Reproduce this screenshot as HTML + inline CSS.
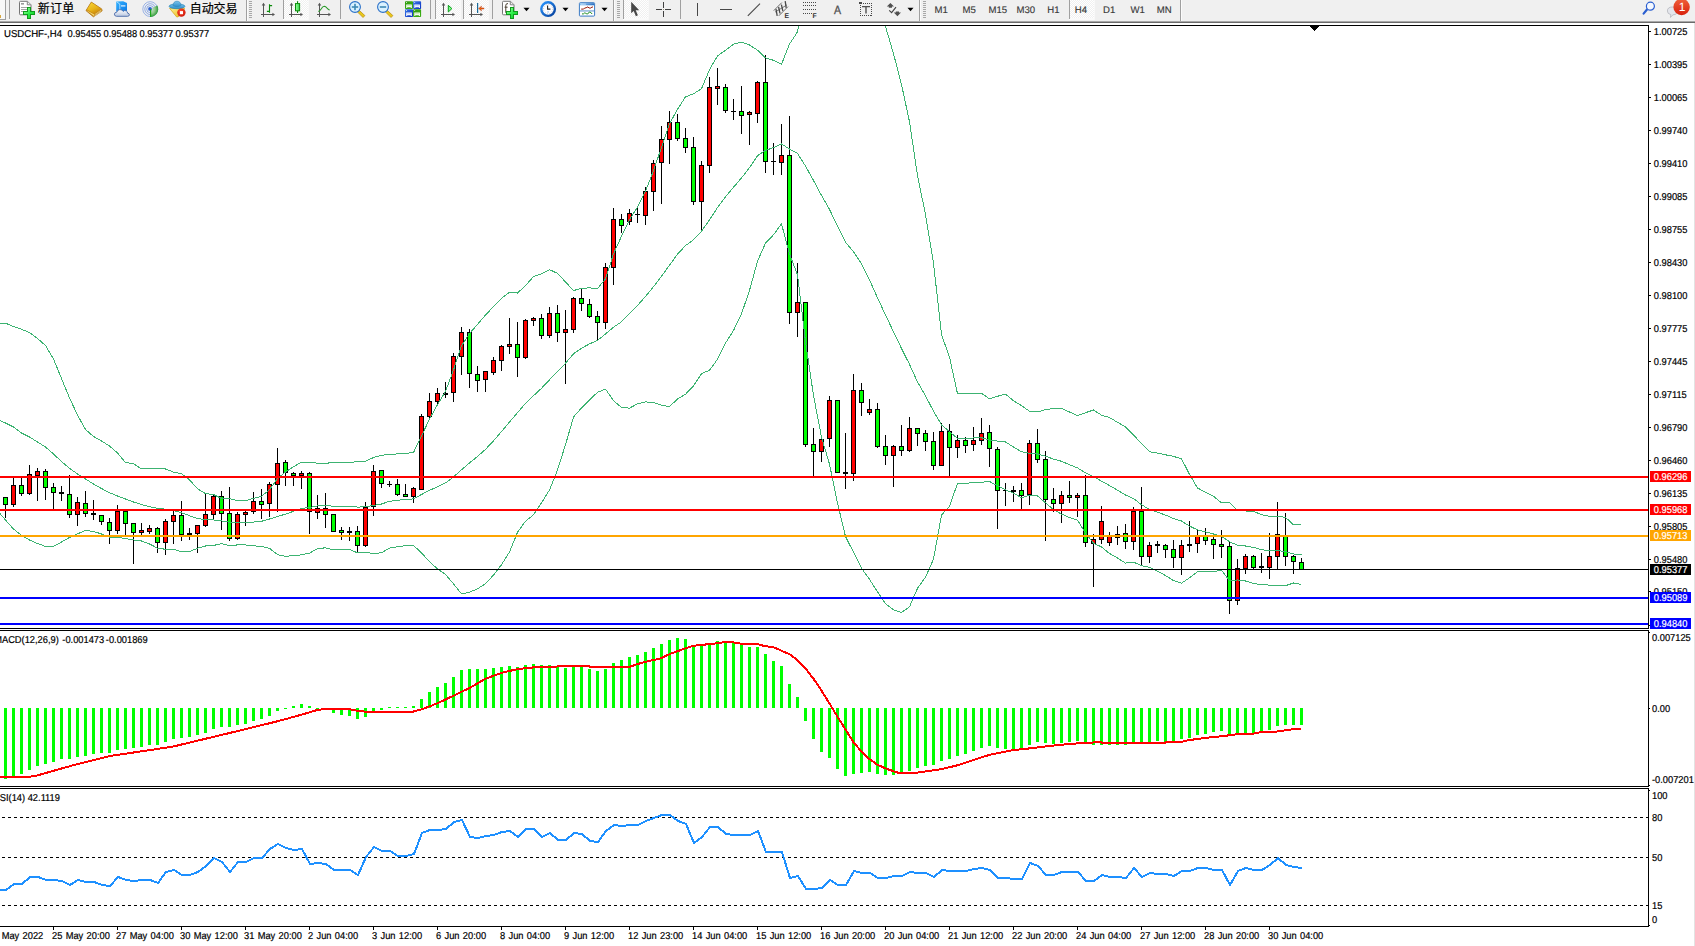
<!DOCTYPE html>
<html lang="zh"><head><meta charset="utf-8"><title>USDCHF-,H4</title>
<style>
html,body{margin:0;padding:0;background:#fff;overflow:hidden}
body{width:1695px;height:946px;position:relative;font-family:"Liberation Sans", "Noto Sans CJK SC", sans-serif}
svg text{font-family:"Liberation Sans", "Noto Sans CJK SC", sans-serif}
</style></head><body>
<svg width="1695" height="946" viewBox="0 0 1695 946" style="position:absolute;left:0;top:0;display:block" font-family='"Liberation Sans", "Noto Sans CJK SC", sans-serif' font-size="10px" text-rendering="geometricPrecision">
<rect x="0" y="0" width="1695" height="946" fill="#fff"/>
<defs>
<clipPath id="cm"><rect x="0" y="26" width="1648" height="602"/></clipPath>
<clipPath id="cd"><rect x="0" y="631" width="1648" height="155"/></clipPath>
<clipPath id="cr"><rect x="0" y="789" width="1648" height="137"/></clipPath>
<pattern id="hatch" width="2" height="2" patternUnits="userSpaceOnUse"><rect width="2" height="2" fill="#f0f0f0"/><rect width="1" height="1" fill="#fff"/><rect x="1" y="1" width="1" height="1" fill="#fff"/></pattern>
</defs>
<g shape-rendering="crispEdges">
<g clip-path="url(#cm)">
<path d="M5 497h1v21h-1zM13 478h1v29h-1zM21 478h1v18h-1zM29 465h1v30h-1zM37 468h1v33h-1zM45 469h1v31h-1zM53 483h1v26h-1zM61 486h1v15h-1zM69 475h1v43h-1zM77 497h1v29h-1zM85 491h1v26h-1zM93 500h1v20h-1zM101 515h1v10h-1zM109 518h1v26h-1zM117 505h1v29h-1zM125 511h1v24h-1zM133 523h1v41h-1zM141 523h1v12h-1zM149 525h1v9h-1zM157 527h1v26h-1zM165 519h1v36h-1zM173 511h1v33h-1zM181 501h1v40h-1zM189 528h1v12h-1zM197 525h1v28h-1zM205 493h1v34h-1zM213 495h1v25h-1zM221 491h1v39h-1zM229 487h1v54h-1zM237 512h1v28h-1zM245 511h1v15h-1zM253 492h1v22h-1zM261 489h1v30h-1zM269 482h1v35h-1zM277 448h1v64h-1zM285 460h1v26h-1zM293 472h1v14h-1zM301 471h1v18h-1zM309 472h1v62h-1zM317 495h1v24h-1zM325 493h1v35h-1zM333 514h1v18h-1zM341 527h1v13h-1zM349 527h1v14h-1zM357 526h1v26h-1zM365 502h1v45h-1zM373 465h1v51h-1zM381 470h1v18h-1zM389 481h1v6h-1zM397 479h1v17h-1zM405 484h1v13h-1zM413 487h1v16h-1zM421 414h1v76h-1zM429 393h1v26h-1zM437 388h1v17h-1zM445 382h1v16h-1zM453 353h1v49h-1zM461 327h1v48h-1zM469 329h1v59h-1zM477 366h1v26h-1zM485 371h1v21h-1zM493 357h1v18h-1zM501 345h1v26h-1zM509 318h1v36h-1zM517 322h1v55h-1zM525 319h1v40h-1zM533 317h1v9h-1zM541 314h1v25h-1zM549 307h1v31h-1zM557 305h1v37h-1zM565 310h1v74h-1zM573 297h1v36h-1zM581 289h1v22h-1zM589 299h1v19h-1zM597 311h1v29h-1zM605 263h1v66h-1zM613 208h1v77h-1zM621 214h1v19h-1zM629 209h1v16h-1zM637 208h1v15h-1zM645 187h1v38h-1zM653 160h1v51h-1zM661 126h1v78h-1zM669 111h1v53h-1zM677 114h1v27h-1zM685 128h1v25h-1zM693 137h1v68h-1zM701 161h1v70h-1zM709 77h1v96h-1zM717 68h1v37h-1zM725 84h1v29h-1zM733 99h1v21h-1zM741 86h1v48h-1zM749 111h1v34h-1zM757 81h1v42h-1zM765 55h1v118h-1zM773 143h1v32h-1zM781 124h1v51h-1zM789 116h1v208h-1zM797 263h1v74h-1zM805 302h1v145h-1zM813 428h1v48h-1zM821 438h1v24h-1zM829 396h1v51h-1zM837 400h1v73h-1zM845 433h1v56h-1zM853 374h1v107h-1zM861 383h1v33h-1zM869 399h1v16h-1zM877 403h1v45h-1zM885 435h1v30h-1zM893 445h1v42h-1zM901 425h1v31h-1zM909 417h1v35h-1zM917 428h1v18h-1zM925 430h1v21h-1zM933 432h1v38h-1zM941 423h1v43h-1zM949 424h1v52h-1zM957 435h1v23h-1zM965 437h1v16h-1zM973 427h1v24h-1zM981 418h1v27h-1zM989 425h1v42h-1zM997 447h1v82h-1zM1005 483h1v23h-1zM1013 486h1v16h-1zM1021 483h1v26h-1zM1029 440h1v65h-1zM1037 429h1v34h-1zM1045 451h1v90h-1zM1053 488h1v24h-1zM1061 491h1v32h-1zM1069 481h1v22h-1zM1077 493h1v24h-1zM1085 475h1v72h-1zM1093 534h1v53h-1zM1101 506h1v38h-1zM1109 532h1v14h-1zM1117 526h1v19h-1zM1125 524h1v25h-1zM1133 507h1v43h-1zM1141 487h1v78h-1zM1149 542h1v21h-1zM1157 541h1v12h-1zM1165 544h1v14h-1zM1173 540h1v28h-1zM1181 540h1v35h-1zM1189 521h1v31h-1zM1197 530h1v23h-1zM1205 528h1v17h-1zM1213 537h1v22h-1zM1221 530h1v28h-1zM1229 542h1v72h-1zM1237 559h1v46h-1zM1245 554h1v20h-1zM1253 555h1v14h-1zM1261 553h1v20h-1zM1269 533h1v46h-1zM1277 502h1v68h-1zM1285 513h1v53h-1zM1293 555h1v19h-1zM1301 558h1v12h-1zM3 497h5v8h-5zM11 485h5v20h-5zM19 485h5v9h-5zM27 474h5v20h-5zM35 471h5v5h-5zM43 471h5v17h-5zM51 487h5v6h-5zM59 492h5v2h-5zM67 494h5v21h-5zM75 502h5v13h-5zM83 503h5v11h-5zM91 513h5v2h-5zM99 515h5v7h-5zM107 522h5v9h-5zM115 511h5v20h-5zM123 511h5v13h-5zM131 523h5v10h-5zM139 530h5v3h-5zM147 528h5v4h-5zM155 528h5v15h-5zM163 521h5v22h-5zM171 515h5v7h-5zM179 515h5v20h-5zM187 533h5v2h-5zM195 525h5v9h-5zM203 514h5v12h-5zM211 496h5v19h-5zM219 496h5v18h-5zM227 513h5v26h-5zM235 514h5v25h-5zM243 512h5v3h-5zM251 501h5v11h-5zM259 501h5v4h-5zM267 484h5v20h-5zM275 463h5v22h-5zM283 462h5v11h-5zM291 473h5v3h-5zM299 473h5v3h-5zM307 473h5v39h-5zM315 508h5v5h-5zM323 508h5v7h-5zM331 514h5v18h-5zM339 530h5v3h-5zM347 531h5v2h-5zM355 531h5v15h-5zM363 507h5v39h-5zM371 471h5v36h-5zM379 470h5v14h-5zM387 484h5v1h-5zM395 484h5v11h-5zM403 494h5v3h-5zM411 488h5v9h-5zM419 416h5v74h-5zM427 401h5v16h-5zM435 393h5v9h-5zM443 393h5v2h-5zM451 356h5v37h-5zM459 332h5v25h-5zM467 332h5v42h-5zM475 374h5v7h-5zM483 371h5v9h-5zM491 360h5v13h-5zM499 346h5v15h-5zM507 344h5v3h-5zM515 344h5v14h-5zM523 320h5v38h-5zM531 318h5v3h-5zM539 318h5v18h-5zM547 313h5v23h-5zM555 313h5v20h-5zM563 329h5v4h-5zM571 298h5v32h-5zM579 298h5v6h-5zM587 304h5v13h-5zM595 316h5v7h-5zM603 267h5v56h-5zM611 219h5v49h-5zM619 219h5v7h-5zM627 213h5v9h-5zM635 214h5v1h-5zM643 191h5v25h-5zM651 163h5v29h-5zM659 139h5v24h-5zM667 122h5v18h-5zM675 122h5v17h-5zM683 138h5v10h-5zM691 147h5v55h-5zM699 165h5v37h-5zM707 87h5v79h-5zM715 86h5v3h-5zM723 87h5v24h-5zM731 111h5v1h-5zM739 111h5v5h-5zM747 112h5v3h-5zM755 82h5v32h-5zM763 82h5v80h-5zM771 161h5v1h-5zM779 155h5v8h-5zM787 155h5v158h-5zM795 302h5v11h-5zM803 302h5v143h-5zM811 444h5v8h-5zM819 439h5v13h-5zM827 400h5v39h-5zM835 400h5v73h-5zM843 472h5v2h-5zM851 390h5v84h-5zM859 390h5v13h-5zM867 409h5v4h-5zM875 409h5v38h-5zM883 446h5v10h-5zM891 446h5v10h-5zM899 446h5v5h-5zM907 428h5v23h-5zM915 428h5v6h-5zM923 433h5v9h-5zM931 441h5v25h-5zM939 431h5v35h-5zM947 431h5v17h-5zM955 440h5v8h-5zM963 440h5v6h-5zM971 440h5v5h-5zM979 433h5v8h-5zM987 432h5v17h-5zM995 449h5v42h-5zM1003 490h5v1h-5zM1011 490h5v2h-5zM1019 490h5v6h-5zM1027 443h5v52h-5zM1035 443h5v17h-5zM1043 459h5v41h-5zM1051 499h5v5h-5zM1059 495h5v9h-5zM1067 495h5v3h-5zM1075 495h5v3h-5zM1083 495h5v48h-5zM1091 539h5v5h-5zM1099 521h5v19h-5zM1107 535h5v8h-5zM1115 534h5v4h-5zM1123 533h5v9h-5zM1131 511h5v31h-5zM1139 511h5v46h-5zM1147 545h5v12h-5zM1155 544h5v2h-5zM1163 545h5v5h-5zM1171 549h5v9h-5zM1179 545h5v13h-5zM1187 544h5v2h-5zM1195 536h5v8h-5zM1203 536h5v5h-5zM1211 539h5v6h-5zM1219 544h5v3h-5zM1227 546h5v55h-5zM1235 568h5v33h-5zM1243 556h5v13h-5zM1251 556h5v12h-5zM1259 566h5v2h-5zM1267 556h5v12h-5zM1275 534h5v23h-5zM1283 536h5v21h-5zM1291 556h5v6h-5zM1299 562h5v8h-5z" fill="#000"/>
<path d="M4 498h3v6h-3zM20 486h3v7h-3zM44 472h3v15h-3zM52 488h3v4h-3zM68 495h3v19h-3zM84 504h3v9h-3zM100 516h3v5h-3zM108 523h3v7h-3zM124 512h3v11h-3zM132 524h3v8h-3zM156 529h3v13h-3zM180 516h3v18h-3zM220 497h3v16h-3zM228 514h3v24h-3zM260 502h3v2h-3zM284 463h3v9h-3zM292 474h3v1h-3zM308 474h3v37h-3zM324 509h3v5h-3zM332 515h3v16h-3zM340 531h3v1h-3zM356 532h3v13h-3zM380 471h3v12h-3zM396 485h3v9h-3zM404 495h3v1h-3zM468 333h3v40h-3zM476 375h3v5h-3zM516 345h3v12h-3zM540 319h3v16h-3zM556 314h3v18h-3zM580 299h3v4h-3zM588 305h3v11h-3zM596 317h3v5h-3zM620 220h3v5h-3zM676 123h3v15h-3zM684 139h3v8h-3zM692 148h3v53h-3zM724 88h3v22h-3zM740 112h3v3h-3zM764 83h3v78h-3zM788 156h3v156h-3zM804 303h3v141h-3zM812 445h3v6h-3zM836 401h3v71h-3zM860 391h3v11h-3zM876 410h3v36h-3zM884 447h3v8h-3zM900 447h3v3h-3zM916 429h3v4h-3zM924 434h3v7h-3zM932 442h3v23h-3zM948 432h3v15h-3zM964 441h3v4h-3zM988 433h3v15h-3zM996 450h3v40h-3zM1020 491h3v4h-3zM1036 444h3v15h-3zM1044 460h3v39h-3zM1052 500h3v3h-3zM1068 496h3v1h-3zM1084 496h3v46h-3zM1124 534h3v7h-3zM1140 512h3v44h-3zM1164 546h3v3h-3zM1172 550h3v7h-3zM1204 537h3v3h-3zM1212 540h3v4h-3zM1220 545h3v1h-3zM1228 547h3v53h-3zM1252 557h3v10h-3zM1284 537h3v19h-3zM1292 557h3v4h-3zM1300 563h3v6h-3z" fill="#00ff00"/>
<path d="M12 486h3v18h-3zM28 475h3v18h-3zM36 472h3v3h-3zM76 503h3v11h-3zM116 512h3v18h-3zM140 531h3v1h-3zM148 529h3v2h-3zM164 522h3v20h-3zM172 516h3v5h-3zM196 526h3v7h-3zM204 515h3v10h-3zM212 497h3v17h-3zM236 515h3v23h-3zM244 513h3v1h-3zM252 502h3v9h-3zM268 485h3v18h-3zM276 464h3v20h-3zM300 474h3v1h-3zM316 509h3v3h-3zM364 508h3v37h-3zM372 472h3v34h-3zM412 489h3v7h-3zM420 417h3v72h-3zM428 402h3v14h-3zM436 394h3v7h-3zM452 357h3v35h-3zM460 333h3v23h-3zM484 372h3v7h-3zM492 361h3v11h-3zM500 347h3v13h-3zM508 345h3v1h-3zM524 321h3v36h-3zM532 319h3v1h-3zM548 314h3v21h-3zM564 330h3v2h-3zM572 299h3v30h-3zM604 268h3v54h-3zM612 220h3v47h-3zM628 214h3v7h-3zM644 192h3v23h-3zM652 164h3v27h-3zM660 140h3v22h-3zM668 123h3v16h-3zM700 166h3v35h-3zM708 88h3v77h-3zM716 87h3v1h-3zM748 113h3v1h-3zM756 83h3v30h-3zM780 156h3v6h-3zM796 303h3v9h-3zM820 440h3v11h-3zM828 401h3v37h-3zM852 391h3v82h-3zM868 410h3v2h-3zM892 447h3v8h-3zM908 429h3v21h-3zM940 432h3v33h-3zM956 441h3v6h-3zM972 441h3v3h-3zM980 434h3v6h-3zM1028 444h3v50h-3zM1060 496h3v7h-3zM1076 496h3v1h-3zM1092 540h3v3h-3zM1100 522h3v17h-3zM1108 536h3v6h-3zM1116 535h3v2h-3zM1132 512h3v29h-3zM1148 546h3v10h-3zM1180 546h3v11h-3zM1196 537h3v6h-3zM1236 569h3v31h-3zM1244 557h3v11h-3zM1268 557h3v10h-3zM1276 535h3v21h-3z" fill="#ff0000"/>
<g fill="none" stroke="#3cb371" stroke-width="1">
<polyline points="0,323.2 5.5,323.2 13.5,326.5 21.5,329.3 29.5,332.5 37.5,338.5 45.5,345.5 53.5,359.0 61.5,378.5 69.5,398.0 77.5,415.0 85.5,429.5 93.5,436.5 101.5,441.0 109.5,446.0 117.5,453.0 125.5,462.5 133.5,463.6 141.5,469.0 149.5,468.5 157.5,468.6 165.5,469.0 173.5,472.1 181.5,473.6 189.5,479.8 197.5,488.7 205.5,493.6 213.5,494.5 221.5,498.5 229.5,498.6 237.5,500.8 245.5,500.6 253.5,498.4 261.5,496.3 269.5,489.7 277.5,478.6 285.5,471.9 293.5,466.8 301.5,462.0 309.5,462.0 317.5,463.2 325.5,463.2 333.5,462.7 341.5,462.9 349.5,463.0 357.5,461.4 365.5,461.2 373.5,457.5 381.5,455.3 389.5,454.5 397.5,453.9 405.5,453.4 413.5,452.5 421.5,435.9 429.5,419.1 437.5,404.6 445.5,391.3 453.5,370.0 461.5,345.7 469.5,333.6 477.5,324.3 485.5,315.0 493.5,306.6 501.5,298.3 509.5,292.2 517.5,293.1 525.5,285.5 533.5,276.6 541.5,273.7 549.5,269.6 557.5,273.4 565.5,281.9 573.5,290.6 581.5,288.3 589.5,287.9 597.5,288.5 605.5,279.0 613.5,253.8 621.5,236.2 629.5,219.6 637.5,207.1 645.5,191.1 653.5,170.7 661.5,147.3 669.5,123.8 677.5,109.3 685.5,96.9 693.5,93.8 701.5,88.8 709.5,69.7 717.5,55.9 725.5,50.2 733.5,44.2 741.5,42.1 749.5,45.0 757.5,50.1 765.5,57.9 773.5,60.3 781.5,64.3 789.5,44.0 797.5,31.9 805.5,-9.4 813.5,-34.6 821.5,-46.2 829.5,-45.5 837.5,-50.8 845.5,-51.9 853.5,-48.6 861.5,-40.9 869.5,-19.8 877.5,3.6 885.5,26.4 893.5,53.7 901.5,84.5 909.5,121.8 917.5,175.5 925.5,214.6 933.5,263.0 941.5,334.7 949.5,357.0 957.5,393.7 965.5,393.7 973.5,393.5 981.5,393.2 989.5,398.9 997.5,396.3 1005.5,394.1 1013.5,400.8 1021.5,405.6 1029.5,411.3 1037.5,412.0 1045.5,409.7 1053.5,408.5 1061.5,408.5 1069.5,412.0 1077.5,415.5 1085.5,412.7 1093.5,410.0 1101.5,415.2 1109.5,417.5 1117.5,422.3 1125.5,426.9 1133.5,434.9 1141.5,443.7 1149.5,451.7 1157.5,453.1 1165.5,454.8 1173.5,456.4 1181.5,458.8 1189.5,474.3 1197.5,488.0 1205.5,492.3 1213.5,496.2 1221.5,502.9 1229.5,502.4 1237.5,510.6 1245.5,511.0 1253.5,511.3 1261.5,514.7 1269.5,516.4 1277.5,516.4 1285.5,517.3 1293.5,525.0 1301.5,524.9"/>
<polyline points="0,420.5 5.5,423.0 13.5,427.0 21.5,433.0 29.5,437.0 37.5,442.0 45.5,447.0 53.5,454.0 61.5,461.5 69.5,468.3 77.5,474.0 85.5,479.0 93.5,484.0 101.5,488.5 109.5,492.7 117.5,496.0 125.5,499.0 133.5,502.0 141.5,504.5 149.5,506.8 157.5,508.3 165.5,509.2 173.5,510.7 181.5,512.7 189.5,515.7 197.5,518.5 205.5,519.8 213.5,520.0 221.5,521.0 229.5,522.2 237.5,522.8 245.5,522.8 253.5,522.1 261.5,521.3 269.5,519.0 277.5,516.6 285.5,514.1 293.5,511.3 301.5,508.4 309.5,507.6 317.5,505.9 325.5,505.5 333.5,506.3 341.5,506.2 349.5,506.1 357.5,507.1 365.5,506.8 373.5,505.5 381.5,504.0 389.5,501.3 397.5,500.3 405.5,499.5 413.5,498.9 421.5,494.5 429.5,490.3 437.5,486.8 445.5,482.9 453.5,476.9 461.5,469.8 469.5,462.9 477.5,456.5 485.5,449.4 493.5,440.8 501.5,431.5 509.5,422.1 517.5,412.7 525.5,403.3 533.5,395.7 541.5,388.3 549.5,379.8 557.5,371.6 565.5,363.3 573.5,353.8 581.5,348.2 589.5,343.9 597.5,340.4 605.5,334.0 613.5,327.2 621.5,321.8 629.5,313.8 637.5,305.5 645.5,296.5 653.5,286.7 661.5,276.3 669.5,265.2 677.5,254.2 685.5,245.6 693.5,239.8 701.5,231.2 709.5,219.9 717.5,207.6 725.5,196.7 733.5,187.3 741.5,177.9 749.5,167.7 757.5,155.7 765.5,150.4 773.5,147.6 781.5,144.0 789.5,149.0 797.5,153.4 805.5,166.1 813.5,180.5 821.5,195.5 829.5,209.4 837.5,226.1 845.5,242.3 853.5,251.8 861.5,263.6 869.5,279.8 877.5,297.8 885.5,315.0 893.5,331.8 901.5,348.5 909.5,364.3 917.5,381.9 925.5,395.9 933.5,411.1 941.5,424.9 949.5,431.6 957.5,438.5 965.5,438.6 973.5,438.0 981.5,437.7 989.5,440.2 997.5,441.1 1005.5,442.0 1013.5,447.0 1021.5,451.7 1029.5,453.4 1037.5,454.0 1045.5,456.2 1053.5,459.1 1061.5,461.3 1069.5,464.7 1077.5,467.9 1085.5,472.9 1093.5,476.6 1101.5,481.1 1109.5,485.5 1117.5,490.2 1125.5,495.0 1133.5,498.5 1141.5,504.7 1149.5,509.5 1157.5,512.2 1165.5,515.1 1173.5,518.5 1181.5,521.0 1189.5,526.1 1197.5,529.9 1205.5,531.9 1213.5,534.0 1221.5,536.5 1229.5,541.7 1237.5,545.3 1245.5,546.0 1253.5,547.4 1261.5,549.7 1269.5,550.7 1277.5,550.7 1285.5,551.5 1293.5,554.0 1301.5,554.7"/>
<polyline points="0,513.5 5.5,520.0 13.5,529.0 21.5,535.3 29.5,540.0 37.5,543.5 45.5,546.4 53.5,546.4 61.5,542.0 69.5,537.5 77.5,533.8 85.5,530.5 93.5,531.4 101.5,534.0 109.5,537.2 117.5,537.3 125.5,538.5 133.5,540.0 141.5,541.0 149.5,544.0 157.5,548.1 165.5,549.3 173.5,549.3 181.5,551.9 189.5,551.7 197.5,548.2 205.5,546.0 213.5,545.5 221.5,543.6 229.5,545.8 237.5,544.9 245.5,544.9 253.5,545.9 261.5,546.3 269.5,548.3 277.5,554.6 285.5,556.3 293.5,555.7 301.5,554.8 309.5,553.1 317.5,548.6 325.5,547.8 333.5,549.9 341.5,549.6 349.5,549.3 357.5,552.9 365.5,552.4 373.5,553.5 381.5,552.8 389.5,548.1 397.5,546.8 405.5,545.7 413.5,545.3 421.5,553.0 429.5,561.5 437.5,569.0 445.5,574.4 453.5,583.8 461.5,593.9 469.5,592.2 477.5,588.8 485.5,583.8 493.5,575.0 501.5,564.7 509.5,552.0 517.5,532.3 525.5,521.2 533.5,514.8 541.5,502.9 549.5,489.9 557.5,469.9 565.5,444.7 573.5,417.0 581.5,408.0 589.5,400.0 597.5,392.3 605.5,389.1 613.5,400.6 621.5,407.4 629.5,408.1 637.5,403.9 645.5,401.9 653.5,402.6 661.5,405.3 669.5,406.5 677.5,399.1 685.5,394.3 693.5,385.8 701.5,373.7 709.5,370.2 717.5,359.3 725.5,343.1 733.5,330.5 741.5,313.8 749.5,290.4 757.5,261.3 765.5,243.0 773.5,234.8 781.5,223.8 789.5,254.0 797.5,274.8 805.5,341.5 813.5,395.5 821.5,437.1 829.5,464.2 837.5,503.0 845.5,536.6 853.5,552.2 861.5,568.2 869.5,579.3 877.5,591.9 885.5,603.6 893.5,609.9 901.5,612.5 909.5,606.9 917.5,588.3 925.5,577.2 933.5,559.1 941.5,515.1 949.5,506.2 957.5,483.4 965.5,483.5 973.5,482.5 981.5,482.3 989.5,481.5 997.5,485.8 1005.5,489.8 1013.5,493.2 1021.5,497.7 1029.5,495.4 1037.5,496.0 1045.5,502.7 1053.5,509.7 1061.5,514.1 1069.5,517.5 1077.5,520.2 1085.5,533.1 1093.5,543.2 1101.5,547.0 1109.5,553.5 1117.5,558.0 1125.5,563.1 1133.5,562.1 1141.5,565.6 1149.5,567.3 1157.5,571.3 1165.5,575.5 1173.5,580.6 1181.5,583.2 1189.5,577.8 1197.5,571.7 1205.5,571.6 1213.5,571.7 1221.5,570.2 1229.5,580.9 1237.5,580.0 1245.5,581.0 1253.5,583.5 1261.5,584.6 1269.5,585.1 1277.5,585.1 1285.5,585.7 1293.5,583.0 1301.5,584.4"/>
</g>
<rect x="0" y="569" width="1648" height="1" fill="#000"/>
<rect x="0" y="476" width="1648" height="2" fill="#ff0000"/>
<rect x="0" y="509" width="1648" height="2" fill="#ff0000"/>
<rect x="0" y="535" width="1648" height="2" fill="#ffa500"/>
<rect x="0" y="597" width="1648" height="2" fill="#0000ff"/>
<rect x="0" y="623" width="1648" height="2" fill="#0000ff"/>
</g>
<path d="M1310 26h9v1h-1v1h-1v1h-1v1h-1v1h-1v-1h-1v-1h-1v-1h-1v-1h-1z" fill="#000"/>
<g clip-path="url(#cd)">
<path d="M4 708h3v71h-3zM12 708h3v69h-3zM20 708h3v66h-3zM28 708h3v62h-3zM36 708h3v58h-3zM44 708h3v56h-3zM52 708h3v54h-3zM60 708h3v51h-3zM68 708h3v51h-3zM76 708h3v49h-3zM84 708h3v48h-3zM92 708h3v46h-3zM100 708h3v45h-3zM108 708h3v45h-3zM116 708h3v42h-3zM124 708h3v41h-3zM132 708h3v40h-3zM140 708h3v39h-3zM148 708h3v37h-3zM156 708h3v37h-3zM164 708h3v34h-3zM172 708h3v31h-3zM180 708h3v30h-3zM188 708h3v29h-3zM196 708h3v27h-3zM204 708h3v25h-3zM212 708h3v21h-3zM220 708h3v19h-3zM228 708h3v19h-3zM236 708h3v17h-3zM244 708h3v16h-3zM252 708h3v13h-3zM260 708h3v11h-3zM268 708h3v8h-3zM276 708h3v3h-3zM284 708h3v1h-3zM292 706h3v2h-3zM300 704h3v4h-3zM308 706h3v2h-3zM316 708h3v1h-3zM324 708h3v1h-3zM332 708h3v5h-3zM340 708h3v7h-3zM348 708h3v8h-3zM356 708h3v11h-3zM364 708h3v9h-3zM372 708h3v3h-3zM380 708h3v2h-3zM388 707h3v1h-3zM396 707h3v1h-3zM404 707h3v1h-3zM412 706h3v2h-3zM420 699h3v9h-3zM428 692h3v16h-3zM436 687h3v21h-3zM444 683h3v25h-3zM452 677h3v31h-3zM460 670h3v38h-3zM468 669h3v39h-3zM476 669h3v39h-3zM484 669h3v39h-3zM492 668h3v40h-3zM500 667h3v41h-3zM508 666h3v42h-3zM516 667h3v41h-3zM524 665h3v43h-3zM532 664h3v44h-3zM540 665h3v43h-3zM548 665h3v43h-3zM556 667h3v41h-3zM564 668h3v40h-3zM572 667h3v41h-3zM580 667h3v41h-3zM588 669h3v39h-3zM596 671h3v37h-3zM604 669h3v39h-3zM612 663h3v45h-3zM620 660h3v48h-3zM628 657h3v51h-3zM636 655h3v53h-3zM644 652h3v56h-3zM652 648h3v60h-3zM660 644h3v64h-3zM668 640h3v68h-3zM676 638h3v70h-3zM684 639h3v69h-3zM692 645h3v63h-3zM700 646h3v62h-3zM708 643h3v65h-3zM716 641h3v67h-3zM724 641h3v67h-3zM732 642h3v66h-3zM740 644h3v64h-3zM748 647h3v61h-3zM756 647h3v61h-3zM764 654h3v54h-3zM772 661h3v47h-3zM780 666h3v42h-3zM788 684h3v24h-3zM796 697h3v11h-3zM804 708h3v13h-3zM812 708h3v31h-3zM820 708h3v44h-3zM828 708h3v50h-3zM836 708h3v61h-3zM844 708h3v68h-3zM852 708h3v66h-3zM860 708h3v65h-3zM868 708h3v64h-3zM876 708h3v66h-3zM884 708h3v67h-3zM892 708h3v67h-3zM900 708h3v64h-3zM908 708h3v63h-3zM916 708h3v60h-3zM924 708h3v58h-3zM932 708h3v57h-3zM940 708h3v53h-3zM948 708h3v51h-3zM956 708h3v48h-3zM964 708h3v46h-3zM972 708h3v43h-3zM980 708h3v40h-3zM988 708h3v38h-3zM996 708h3v40h-3zM1004 708h3v41h-3zM1012 708h3v41h-3zM1020 708h3v41h-3zM1028 708h3v37h-3zM1036 708h3v34h-3zM1044 708h3v35h-3zM1052 708h3v36h-3zM1060 708h3v35h-3zM1068 708h3v34h-3zM1076 708h3v33h-3zM1084 708h3v35h-3zM1092 708h3v37h-3zM1100 708h3v37h-3zM1108 708h3v37h-3zM1116 708h3v37h-3zM1124 708h3v37h-3zM1132 708h3v35h-3zM1140 708h3v35h-3zM1148 708h3v35h-3zM1156 708h3v33h-3zM1164 708h3v34h-3zM1172 708h3v34h-3zM1180 708h3v31h-3zM1188 708h3v30h-3zM1196 708h3v27h-3zM1204 708h3v26h-3zM1212 708h3v24h-3zM1220 708h3v23h-3zM1228 708h3v27h-3zM1236 708h3v27h-3zM1244 708h3v26h-3zM1252 708h3v25h-3zM1260 708h3v25h-3zM1268 708h3v22h-3zM1276 708h3v18h-3zM1284 708h3v17h-3zM1292 708h3v17h-3zM1300 708h3v17h-3z" fill="#00ff00"/>
<polyline fill="none" stroke="#ff0000" stroke-width="2" stroke-linejoin="round" points="0.0,777.2 28.8,776.8 37.0,775.5 74.0,765.0 110.0,756.0 172.5,746.7 237.0,731.2 275.0,721.9 297.0,716.0 317.3,710.0 325.7,708.9 349.4,709.2 357.9,710.9 366.3,711.7 412.9,711.7 422.2,709.2 437.4,703.3 453.5,695.7 469.5,688.0 485.6,678.7 501.7,672.8 517.6,669.1 533.5,667.4 549.5,666.6 589.0,666.1 590.6,667.2 628.7,667.2 638.0,663.9 645.6,661.8 660.8,658.4 669.4,654.2 677.5,651.2 685.5,648.3 693.4,645.8 701.6,644.9 709.5,644.1 717.5,643.2 725.6,642.0 733.5,642.4 741.5,643.7 757.5,644.1 765.5,646.3 773.4,647.1 781.6,650.8 789.5,654.2 797.5,660.1 805.6,668.6 813.5,678.7 821.5,690.6 829.4,703.3 837.5,716.8 845.5,729.5 853.4,742.2 861.5,751.5 869.5,759.1 877.4,764.7 885.6,768.4 893.5,771.3 897.7,772.6 917.5,772.6 925.5,771.4 941.5,769.2 957.4,765.3 973.5,759.9 989.4,754.9 997.5,753.2 1013.4,750.1 1029.5,748.4 1045.4,746.4 1061.5,744.7 1077.5,743.4 1093.4,742.5 1101.0,741.7 1101.8,743.0 1165.3,743.0 1166.1,741.8 1181.3,741.8 1189.8,740.0 1205.5,737.9 1221.4,736.3 1237.5,734.2 1253.4,733.7 1261.5,732.0 1277.4,731.5 1285.4,730.3 1293.5,729.2 1301.4,729.0"/>
</g>
<g clip-path="url(#cr)">
<line x1="2" y1="817.5" x2="1648" y2="817.5" stroke="#000" stroke-width="1" stroke-dasharray="3 3"/>
<line x1="2" y1="857.5" x2="1648" y2="857.5" stroke="#000" stroke-width="1" stroke-dasharray="3 3"/>
<line x1="2" y1="905.5" x2="1648" y2="905.5" stroke="#000" stroke-width="1" stroke-dasharray="3 3"/>
</g>
</g>
<g clip-path="url(#cr)" shape-rendering="crispEdges">
<polyline fill="none" stroke="#1e90ff" stroke-width="2" stroke-linejoin="round" points="0,890.0 6.0,890.0 14.0,884.0 22.0,884.0 30.0,877.0 38.0,877.0 46.0,880.0 54.0,880.0 62.0,881.0 70.0,885.0 78.0,880.0 86.0,882.0 94.0,882.0 102.0,885.0 110.0,886.0 118.0,877.0 126.0,880.0 134.0,881.0 142.0,880.0 150.0,880.0 158.0,883.0 166.0,872.0 174.0,870.0 182.0,875.0 190.0,875.0 198.0,872.0 206.0,866.0 214.0,858.0 222.0,862.0 230.0,872.0 238.0,862.0 246.0,862.0 254.0,858.0 262.0,858.0 270.0,849.0 278.0,844.0 286.0,848.0 294.0,850.0 302.0,849.0 310.0,864.0 318.0,863.0 326.0,864.0 334.0,870.0 342.0,870.0 350.0,870.0 358.0,875.0 366.0,857.0 374.0,847.0 382.0,851.0 390.0,851.0 398.0,856.0 406.0,856.0 414.0,854.0 422.0,833.0 430.0,830.0 438.0,830.0 446.0,829.0 454.0,822.0 462.0,820.0 470.0,837.0 478.0,838.0 486.0,836.0 494.0,835.0 502.0,832.0 510.0,831.0 518.0,837.0 526.0,829.0 534.0,829.0 542.0,837.0 550.0,833.0 558.0,840.0 566.0,840.0 574.0,833.0 582.0,834.0 590.0,841.0 598.0,842.0 606.0,831.0 614.0,825.0 622.0,826.0 630.0,825.0 638.0,825.0 646.0,821.0 654.0,818.0 662.0,815.0 670.0,815.0 678.0,821.0 686.0,824.0 694.0,843.0 702.0,837.0 710.0,827.0 718.0,827.0 726.0,834.0 734.0,835.0 742.0,835.0 750.0,835.0 758.0,831.0 766.0,852.0 774.0,852.0 782.0,852.0 790.0,878.0 798.0,876.0 806.0,889.0 814.0,889.0 822.0,888.0 830.0,880.0 838.0,885.0 846.0,885.0 854.0,871.0 862.0,873.0 870.0,873.0 878.0,878.0 886.0,878.0 894.0,876.0 902.0,876.0 910.0,872.0 918.0,873.0 926.0,873.0 934.0,877.0 942.0,870.0 950.0,871.0 958.0,871.0 966.0,871.0 974.0,869.0 982.0,868.0 990.0,870.0 998.0,878.0 1006.0,878.0 1014.0,879.0 1022.0,879.0 1030.0,863.0 1038.0,866.0 1046.0,875.0 1054.0,875.0 1062.0,872.0 1070.0,872.0 1078.0,872.0 1086.0,881.0 1094.0,881.0 1102.0,875.0 1110.0,877.0 1118.0,877.0 1126.0,878.0 1134.0,868.0 1142.0,877.0 1150.0,873.0 1158.0,874.0 1166.0,874.0 1174.0,876.0 1182.0,871.0 1190.0,871.0 1198.0,868.0 1206.0,868.0 1214.0,870.0 1222.0,870.0 1230.0,885.0 1238.0,871.0 1246.0,868.0 1254.0,870.0 1262.0,870.0 1270.0,865.0 1278.0,858.0 1286.0,865.0 1294.0,867.0 1302.0,868.0"/>
</g>
<g shape-rendering="crispEdges" fill="#000">
<rect x="0" y="25" width="1649" height="1"/>
<rect x="0" y="628" width="1649" height="1"/>
<rect x="0" y="630" width="1649" height="1"/>
<rect x="0" y="786" width="1649" height="1"/>
<rect x="0" y="788" width="1649" height="1"/>
<rect x="0" y="926" width="1649" height="1"/>
<rect x="1648" y="25" width="1" height="604"/>
<rect x="1648" y="630" width="1" height="157"/>
<rect x="1648" y="788" width="1" height="139"/>
<rect x="1649" y="31" width="2" height="1"/>
<rect x="1649" y="64" width="2" height="1"/>
<rect x="1649" y="97" width="2" height="1"/>
<rect x="1649" y="130" width="2" height="1"/>
<rect x="1649" y="163" width="2" height="1"/>
<rect x="1649" y="196" width="2" height="1"/>
<rect x="1649" y="229" width="2" height="1"/>
<rect x="1649" y="262" width="2" height="1"/>
<rect x="1649" y="295" width="2" height="1"/>
<rect x="1649" y="328" width="2" height="1"/>
<rect x="1649" y="361" width="2" height="1"/>
<rect x="1649" y="394" width="2" height="1"/>
<rect x="1649" y="427" width="2" height="1"/>
<rect x="1649" y="460" width="2" height="1"/>
<rect x="1649" y="493" width="2" height="1"/>
<rect x="1649" y="526" width="2" height="1"/>
<rect x="1649" y="559" width="2" height="1"/>
<rect x="1649" y="591" width="2" height="1"/>
<rect x="1649" y="625" width="1" height="1"/>
<rect x="1649" y="632" width="1" height="1"/>
<rect x="1649" y="708" width="1" height="1"/>
<rect x="1649" y="785" width="1" height="1"/>
<rect x="1649" y="790" width="1" height="1"/>
<rect x="1649" y="925" width="1" height="1"/>
<rect x="53" y="927" width="1" height="3"/>
<rect x="117" y="927" width="1" height="3"/>
<rect x="181" y="927" width="1" height="3"/>
<rect x="245" y="927" width="1" height="3"/>
<rect x="309" y="927" width="1" height="3"/>
<rect x="373" y="927" width="1" height="3"/>
<rect x="437" y="927" width="1" height="3"/>
<rect x="501" y="927" width="1" height="3"/>
<rect x="565" y="927" width="1" height="3"/>
<rect x="629" y="927" width="1" height="3"/>
<rect x="693" y="927" width="1" height="3"/>
<rect x="757" y="927" width="1" height="3"/>
<rect x="821" y="927" width="1" height="3"/>
<rect x="885" y="927" width="1" height="3"/>
<rect x="949" y="927" width="1" height="3"/>
<rect x="1013" y="927" width="1" height="3"/>
<rect x="1077" y="927" width="1" height="3"/>
<rect x="1141" y="927" width="1" height="3"/>
<rect x="1205" y="927" width="1" height="3"/>
<rect x="1269" y="927" width="1" height="3"/>
</g>
<g fill="#000">
<text transform="translate(1653.8,34.8) scale(0.93,1.0)" fill="#000" stroke="#000" stroke-width="0.2">1.00725</text>
<text transform="translate(1653.8,67.8) scale(0.93,1.0)" fill="#000" stroke="#000" stroke-width="0.2">1.00395</text>
<text transform="translate(1653.8,100.8) scale(0.93,1.0)" fill="#000" stroke="#000" stroke-width="0.2">1.00065</text>
<text transform="translate(1653.8,133.8) scale(0.93,1.0)" fill="#000" stroke="#000" stroke-width="0.2">0.99740</text>
<text transform="translate(1653.8,166.8) scale(0.93,1.0)" fill="#000" stroke="#000" stroke-width="0.2">0.99410</text>
<text transform="translate(1653.8,199.8) scale(0.93,1.0)" fill="#000" stroke="#000" stroke-width="0.2">0.99085</text>
<text transform="translate(1653.8,232.8) scale(0.93,1.0)" fill="#000" stroke="#000" stroke-width="0.2">0.98755</text>
<text transform="translate(1653.8,265.8) scale(0.93,1.0)" fill="#000" stroke="#000" stroke-width="0.2">0.98430</text>
<text transform="translate(1653.8,298.8) scale(0.93,1.0)" fill="#000" stroke="#000" stroke-width="0.2">0.98100</text>
<text transform="translate(1653.8,331.8) scale(0.93,1.0)" fill="#000" stroke="#000" stroke-width="0.2">0.97775</text>
<text transform="translate(1653.8,364.8) scale(0.93,1.0)" fill="#000" stroke="#000" stroke-width="0.2">0.97445</text>
<text transform="translate(1653.8,397.8) scale(0.93,1.0)" fill="#000" stroke="#000" stroke-width="0.2">0.97115</text>
<text transform="translate(1653.8,430.8) scale(0.93,1.0)" fill="#000" stroke="#000" stroke-width="0.2">0.96790</text>
<text transform="translate(1653.8,463.8) scale(0.93,1.0)" fill="#000" stroke="#000" stroke-width="0.2">0.96460</text>
<text transform="translate(1653.8,496.8) scale(0.93,1.0)" fill="#000" stroke="#000" stroke-width="0.2">0.96135</text>
<text transform="translate(1653.8,529.8) scale(0.93,1.0)" fill="#000" stroke="#000" stroke-width="0.2">0.95805</text>
<text transform="translate(1653.8,562.8) scale(0.93,1.0)" fill="#000" stroke="#000" stroke-width="0.2">0.95480</text>
<text transform="translate(1653.8,594.8) scale(0.93,1.0)" fill="#000" stroke="#000" stroke-width="0.2">0.95150</text>
<text transform="translate(1652,641) scale(0.93,1.0)" fill="#000" stroke="#000" stroke-width="0.2">0.007125</text>
<text transform="translate(1652,711.5) scale(0.93,1.0)" fill="#000" stroke="#000" stroke-width="0.2">0.00</text>
<text transform="translate(1652,783) scale(0.93,1.0)" fill="#000" stroke="#000" stroke-width="0.2">-0.007201</text>
<text transform="translate(1652,799) scale(0.93,1.0)" fill="#000" stroke="#000" stroke-width="0.2">100</text>
<text transform="translate(1652,821) scale(0.93,1.0)" fill="#000" stroke="#000" stroke-width="0.2">80</text>
<text transform="translate(1652,861) scale(0.93,1.0)" fill="#000" stroke="#000" stroke-width="0.2">50</text>
<text transform="translate(1652,909) scale(0.93,1.0)" fill="#000" stroke="#000" stroke-width="0.2">15</text>
<text transform="translate(1652,923) scale(0.93,1.0)" fill="#000" stroke="#000" stroke-width="0.2">0</text>
</g>
<rect x="1650" y="471" width="41" height="11" fill="#ff0000" shape-rendering="crispEdges"/>
<text transform="translate(1653.8,480) scale(0.93,1.0)" fill="#fff" stroke="#fff" stroke-width="0.2">0.96296</text>
<rect x="1650" y="504" width="41" height="11" fill="#ff0000" shape-rendering="crispEdges"/>
<text transform="translate(1653.8,513) scale(0.93,1.0)" fill="#fff" stroke="#fff" stroke-width="0.2">0.95968</text>
<rect x="1650" y="530" width="41" height="11" fill="#ffa500" shape-rendering="crispEdges"/>
<text transform="translate(1653.8,539) scale(0.93,1.0)" fill="#fff" stroke="#fff" stroke-width="0.2">0.95713</text>
<rect x="1650" y="564" width="41" height="11" fill="#000000" shape-rendering="crispEdges"/>
<text transform="translate(1653.8,573) scale(0.93,1.0)" fill="#fff" stroke="#fff" stroke-width="0.2">0.95377</text>
<rect x="1650" y="592" width="41" height="11" fill="#0000ff" shape-rendering="crispEdges"/>
<text transform="translate(1653.8,601) scale(0.93,1.0)" fill="#fff" stroke="#fff" stroke-width="0.2">0.95089</text>
<rect x="1650" y="618" width="41" height="11" fill="#0000ff" shape-rendering="crispEdges"/>
<text transform="translate(1653.8,627) scale(0.93,1.0)" fill="#fff" stroke="#fff" stroke-width="0.2">0.94840</text>
<text transform="translate(4,37.4) scale(0.93,1.0)" fill="#000" stroke="#000" stroke-width="0.2" textLength="62.37" lengthAdjust="spacingAndGlyphs">USDCHF-,H4</text>
<text transform="translate(67.6,37.4) scale(0.93,1.0)" fill="#000" stroke="#000" stroke-width="0.2">0.95455</text>
<text transform="translate(103.6,37.4) scale(0.93,1.0)" fill="#000" stroke="#000" stroke-width="0.2">0.95488</text>
<text transform="translate(139.6,37.4) scale(0.93,1.0)" fill="#000" stroke="#000" stroke-width="0.2">0.95377</text>
<text transform="translate(175.6,37.4) scale(0.93,1.0)" fill="#000" stroke="#000" stroke-width="0.2">0.95377</text>
<text transform="translate(-5.8,643.2) scale(0.93,1.0)" fill="#000" stroke="#000" stroke-width="0.2">MACD(12,26,9)</text>
<text transform="translate(62.3,643.2) scale(0.93,1.0)" fill="#000" stroke="#000" stroke-width="0.2">-0.001473</text>
<text transform="translate(105.8,643.2) scale(0.93,1.0)" fill="#000" stroke="#000" stroke-width="0.2">-0.001869</text>
<text transform="translate(-6.9,801.2) scale(0.93,1.0)" fill="#000" stroke="#000" stroke-width="0.2">RSI(14)</text>
<text transform="translate(27.7,801.2) scale(0.93,1.0)" fill="#000" stroke="#000" stroke-width="0.2">42.1119</text>
<text transform="translate(-12,939.2) scale(0.93,1.0)" fill="#000" stroke="#000" stroke-width="0.2" word-spacing="0.8">24 May 2022</text>
<text transform="translate(52,939.2) scale(0.93,1.0)" fill="#000" stroke="#000" stroke-width="0.2" word-spacing="0.8">25 May 20:00</text>
<text transform="translate(116,939.2) scale(0.93,1.0)" fill="#000" stroke="#000" stroke-width="0.2" word-spacing="0.8">27 May 04:00</text>
<text transform="translate(180,939.2) scale(0.93,1.0)" fill="#000" stroke="#000" stroke-width="0.2" word-spacing="0.8">30 May 12:00</text>
<text transform="translate(244,939.2) scale(0.93,1.0)" fill="#000" stroke="#000" stroke-width="0.2" word-spacing="0.8">31 May 20:00</text>
<text transform="translate(308,939.2) scale(0.93,1.0)" fill="#000" stroke="#000" stroke-width="0.2" word-spacing="0.8">2 Jun 04:00</text>
<text transform="translate(372,939.2) scale(0.93,1.0)" fill="#000" stroke="#000" stroke-width="0.2" word-spacing="0.8">3 Jun 12:00</text>
<text transform="translate(436,939.2) scale(0.93,1.0)" fill="#000" stroke="#000" stroke-width="0.2" word-spacing="0.8">6 Jun 20:00</text>
<text transform="translate(500,939.2) scale(0.93,1.0)" fill="#000" stroke="#000" stroke-width="0.2" word-spacing="0.8">8 Jun 04:00</text>
<text transform="translate(564,939.2) scale(0.93,1.0)" fill="#000" stroke="#000" stroke-width="0.2" word-spacing="0.8">9 Jun 12:00</text>
<text transform="translate(628,939.2) scale(0.93,1.0)" fill="#000" stroke="#000" stroke-width="0.2" word-spacing="0.8">12 Jun 23:00</text>
<text transform="translate(692,939.2) scale(0.93,1.0)" fill="#000" stroke="#000" stroke-width="0.2" word-spacing="0.8">14 Jun 04:00</text>
<text transform="translate(756,939.2) scale(0.93,1.0)" fill="#000" stroke="#000" stroke-width="0.2" word-spacing="0.8">15 Jun 12:00</text>
<text transform="translate(820,939.2) scale(0.93,1.0)" fill="#000" stroke="#000" stroke-width="0.2" word-spacing="0.8">16 Jun 20:00</text>
<text transform="translate(884,939.2) scale(0.93,1.0)" fill="#000" stroke="#000" stroke-width="0.2" word-spacing="0.8">20 Jun 04:00</text>
<text transform="translate(948,939.2) scale(0.93,1.0)" fill="#000" stroke="#000" stroke-width="0.2" word-spacing="0.8">21 Jun 12:00</text>
<text transform="translate(1012,939.2) scale(0.93,1.0)" fill="#000" stroke="#000" stroke-width="0.2" word-spacing="0.8">22 Jun 20:00</text>
<text transform="translate(1076,939.2) scale(0.93,1.0)" fill="#000" stroke="#000" stroke-width="0.2" word-spacing="0.8">24 Jun 04:00</text>
<text transform="translate(1140,939.2) scale(0.93,1.0)" fill="#000" stroke="#000" stroke-width="0.2" word-spacing="0.8">27 Jun 12:00</text>
<text transform="translate(1204,939.2) scale(0.93,1.0)" fill="#000" stroke="#000" stroke-width="0.2" word-spacing="0.8">28 Jun 20:00</text>
<text transform="translate(1268,939.2) scale(0.93,1.0)" fill="#000" stroke="#000" stroke-width="0.2" word-spacing="0.8">30 Jun 04:00</text>
<rect x="1694" y="23" width="1" height="923" fill="#e3e3e3" shape-rendering="crispEdges"/>
<g id="toolbar">
<defs>
<linearGradient id="gPlus" x1="0" y1="0" x2="1" y2="1"><stop offset="0" stop-color="#a8ffa8"/><stop offset="0.5" stop-color="#2cf04a"/><stop offset="1" stop-color="#10c020"/></linearGradient>
<linearGradient id="gGold" x1="0" y1="0" x2="0.6" y2="1"><stop offset="0" stop-color="#f7d63a"/><stop offset="0.6" stop-color="#e8b417"/><stop offset="1" stop-color="#c9860e"/></linearGradient>
<linearGradient id="gBlue" x1="0" y1="0" x2="1" y2="1"><stop offset="0" stop-color="#35b3ff"/><stop offset="1" stop-color="#0a78e6"/></linearGradient>
<linearGradient id="gCloud" x1="0" y1="0" x2="0" y2="1"><stop offset="0" stop-color="#ffffff"/><stop offset="1" stop-color="#b9c7e0"/></linearGradient>
<linearGradient id="gHat" x1="0" y1="0" x2="0" y2="1"><stop offset="0" stop-color="#7cc4ee"/><stop offset="1" stop-color="#2f8fc8"/></linearGradient>
<linearGradient id="gFace" x1="0" y1="0" x2="1" y2="1"><stop offset="0" stop-color="#fff08a"/><stop offset="1" stop-color="#e6b820"/></linearGradient>
<radialGradient id="gRed" cx="0.4" cy="0.35" r="0.8"><stop offset="0" stop-color="#ff4a2a"/><stop offset="1" stop-color="#c41208"/></radialGradient>
<linearGradient id="gBadge" x1="0" y1="0" x2="0" y2="1"><stop offset="0" stop-color="#f0603a"/><stop offset="1" stop-color="#d8200c"/></linearGradient>
<linearGradient id="gCandle" x1="0" y1="0" x2="1" y2="0"><stop offset="0" stop-color="#9dffa0"/><stop offset="1" stop-color="#2fd84a"/></linearGradient>
<linearGradient id="gClock" x1="0" y1="0" x2="1" y2="1"><stop offset="0" stop-color="#2a96ff"/><stop offset="1" stop-color="#053f9a"/></linearGradient>
<linearGradient id="gWin" x1="0" y1="0" x2="1" y2="0"><stop offset="0" stop-color="#8cc4f4"/><stop offset="1" stop-color="#2a6fc0"/></linearGradient>
<linearGradient id="gGreenT" x1="0" y1="0" x2="1" y2="1"><stop offset="0" stop-color="#2f9a10"/><stop offset="1" stop-color="#3eb014"/></linearGradient>
<linearGradient id="gBlueT" x1="0" y1="0" x2="1" y2="1"><stop offset="0" stop-color="#3a78e8"/><stop offset="1" stop-color="#0a30c0"/></linearGradient>
</defs>
<rect x="0" y="0" width="1695" height="21" fill="#f0f0f0" shape-rendering="crispEdges"/>
<rect x="0" y="21" width="1695" height="1" fill="#a8a8a8" shape-rendering="crispEdges"/>
<rect x="0" y="22" width="1695" height="1" fill="#6a6a6a" shape-rendering="crispEdges"/>
<g shape-rendering="crispEdges">
<rect x="0" y="0" width="5" height="19" fill="#f8f8f8"/>
<rect x="5" y="0" width="1" height="20" fill="#a0a0a0"/>
<rect x="0" y="19" width="6" height="1" fill="#a0a0a0"/>
<rect x="0" y="15" width="1" height="3" fill="#d8a840"/>
<rect x="284" y="0" width="24" height="18" fill="url(#hatch)"/>
<rect x="283" y="18" width="26" height="2" fill="#fafafa"/>
<rect x="308" y="0" width="1" height="20" fill="#f8f8f8"/>
<rect x="436" y="0" width="24" height="18" fill="url(#hatch)"/>
<rect x="435" y="18" width="26" height="2" fill="#fafafa"/>
<rect x="460" y="0" width="1" height="20" fill="#f8f8f8"/>
<rect x="464" y="0" width="24" height="18" fill="url(#hatch)"/>
<rect x="463" y="18" width="26" height="2" fill="#fafafa"/>
<rect x="488" y="0" width="1" height="20" fill="#f8f8f8"/>
<rect x="624" y="0" width="24" height="18" fill="url(#hatch)"/>
<rect x="623" y="18" width="26" height="2" fill="#fafafa"/>
<rect x="648" y="0" width="1" height="20" fill="#f8f8f8"/>
<rect x="1070" y="0" width="24" height="18" fill="url(#hatch)"/>
<rect x="1069" y="18" width="26" height="2" fill="#fafafa"/>
<rect x="1094" y="0" width="1" height="20" fill="#f8f8f8"/>
<rect x="9" y="0" width="1" height="19" fill="#a0a0a0"/>
<rect x="283" y="0" width="1" height="19" fill="#a0a0a0"/>
<rect x="340" y="0" width="1" height="19" fill="#a0a0a0"/>
<rect x="430" y="0" width="1" height="19" fill="#a0a0a0"/>
<rect x="435" y="0" width="1" height="19" fill="#a0a0a0"/>
<rect x="463" y="0" width="1" height="19" fill="#a0a0a0"/>
<rect x="492" y="0" width="1" height="19" fill="#a0a0a0"/>
<rect x="623" y="0" width="1" height="19" fill="#a0a0a0"/>
<rect x="680" y="0" width="1" height="19" fill="#a0a0a0"/>
<rect x="1069" y="0" width="1" height="19" fill="#a0a0a0"/>
<rect x="246" y="0" width="1" height="21" fill="#a0a0a0"/>
<rect x="247" y="0" width="1" height="21" fill="#fbfbfb"/>
<rect x="613" y="0" width="1" height="21" fill="#a0a0a0"/>
<rect x="614" y="0" width="1" height="21" fill="#fbfbfb"/>
<rect x="919" y="0" width="1" height="21" fill="#a0a0a0"/>
<rect x="920" y="0" width="1" height="21" fill="#fbfbfb"/>
<rect x="1180" y="0" width="1" height="21" fill="#a0a0a0"/>
<rect x="1181" y="0" width="1" height="21" fill="#fbfbfb"/>
<rect x="249" y="1" width="3" height="1" fill="#a8a8a8"/>
<rect x="249" y="3" width="3" height="1" fill="#a8a8a8"/>
<rect x="249" y="5" width="3" height="1" fill="#a8a8a8"/>
<rect x="249" y="7" width="3" height="1" fill="#a8a8a8"/>
<rect x="249" y="9" width="3" height="1" fill="#a8a8a8"/>
<rect x="249" y="11" width="3" height="1" fill="#a8a8a8"/>
<rect x="249" y="13" width="3" height="1" fill="#a8a8a8"/>
<rect x="249" y="15" width="3" height="1" fill="#a8a8a8"/>
<rect x="249" y="17" width="3" height="1" fill="#a8a8a8"/>
<rect x="617" y="1" width="3" height="1" fill="#a8a8a8"/>
<rect x="617" y="3" width="3" height="1" fill="#a8a8a8"/>
<rect x="617" y="5" width="3" height="1" fill="#a8a8a8"/>
<rect x="617" y="7" width="3" height="1" fill="#a8a8a8"/>
<rect x="617" y="9" width="3" height="1" fill="#a8a8a8"/>
<rect x="617" y="11" width="3" height="1" fill="#a8a8a8"/>
<rect x="617" y="13" width="3" height="1" fill="#a8a8a8"/>
<rect x="617" y="15" width="3" height="1" fill="#a8a8a8"/>
<rect x="617" y="17" width="3" height="1" fill="#a8a8a8"/>
<rect x="923" y="1" width="3" height="1" fill="#a8a8a8"/>
<rect x="923" y="3" width="3" height="1" fill="#a8a8a8"/>
<rect x="923" y="5" width="3" height="1" fill="#a8a8a8"/>
<rect x="923" y="7" width="3" height="1" fill="#a8a8a8"/>
<rect x="923" y="9" width="3" height="1" fill="#a8a8a8"/>
<rect x="923" y="11" width="3" height="1" fill="#a8a8a8"/>
<rect x="923" y="13" width="3" height="1" fill="#a8a8a8"/>
<rect x="923" y="15" width="3" height="1" fill="#a8a8a8"/>
<rect x="923" y="17" width="3" height="1" fill="#a8a8a8"/>
</g>
<path d="M19.5 2.3q0-1 1-1h7l3.5 3.5v9q0 1-1 1h-9.5q-1 0-1-1z" fill="#fff" stroke="#757575" stroke-width="1"/><path d="M27.3 1.6v3.2h3.2" fill="#f4f4f4" stroke="#757575" stroke-width="0.9"/><rect x="21" y="3" width="3" height="1.6" fill="#9a9a9a"/><rect x="21" y="7.1" width="6" height="0.9" fill="#9a9a9a"/><rect x="21" y="9.1" width="6" height="0.9" fill="#9a9a9a"/><rect x="21" y="11.1" width="6" height="0.9" fill="#9a9a9a"/>
<g shape-rendering="crispEdges"><path d="M27 7h4v4h4v4h-4v4h-4v-4h-4v-4h4z" fill="#0f9a1c"/><path d="M28 8h2v4h4v2h-4v4h-2v-4h-4v-2h4z" fill="url(#gPlus)"/></g>
<text x="37.8" y="13" font-size="12px" fill="#000" stroke="#000" stroke-width="0.2" text-rendering="auto" textLength="36.4" lengthAdjust="spacing">新订单</text>
<path d="M91.3 2.1l10.4 6.8 0.4 2.1-8.7 5.8-7.4-6.2z" fill="#c98a12" stroke="#b0700c" stroke-width="0.8" stroke-linejoin="round"/>
<path d="M91.4 2.6l9.8 6.5-6.6 4.9-7.6-4.6z" fill="url(#gGold)"/>
<path d="M86.6 10.2l7.6 4.4 0.1 1.6-7.4-5.4z" fill="#f4dc7a"/>
<path d="M94.8 14.6l6.6-4.6M95 15.7l6.6-4.6" fill="none" stroke="#efe2b0" stroke-width="0.6"/>
<path d="M116.2 1.6l7-0.3 3.8 1.6v8.5h-10.8z" fill="url(#gBlue)"/>
<path d="M116.6 1.8l3.2 2.2v7" fill="none" stroke="#d8f0ff" stroke-width="0.7"/>
<rect x="121" y="5.3" width="4.4" height="1.2" fill="#e8f6ff"/>
<path d="M116.5 16.3q-2.2-0.2-2.1-2.2 0.2-1.9 2.4-1.9 0.5-2.4 3-2.6 2.5-0.1 3.3 1.8 1.4-1.4 3.1-0.6 1.5 0.8 1.3 2.3 2 0.3 1.9 1.8-0.1 1.4-1.9 1.4z" fill="url(#gCloud)" stroke="#4a6aa8" stroke-width="0.9"/>
<defs><radialGradient id="gRad" gradientUnits="userSpaceOnUse" cx="150.2" cy="9.1" r="8"><stop offset="0" stop-color="#d8ecd0" stop-opacity="0.6"/><stop offset="0.6" stop-color="#8cc888"/><stop offset="1" stop-color="#2f9a3a"/></radialGradient></defs>
<g fill="none" stroke="#3f72d8"><circle cx="150.2" cy="9.1" r="7.4" stroke-width="0.9" opacity="0.55"/><circle cx="150.2" cy="9.1" r="5.4" stroke-width="0.9" opacity="0.6"/><circle cx="150.2" cy="9.1" r="3.5" stroke-width="0.9" opacity="0.6"/></g>
<path d="M150.2 9.1L157.4 5.6A7.9 7.9 0 0 1 150.2 17z" fill="url(#gRad)"/>
<circle cx="150" cy="8.9" r="1.9" fill="#2a5fd0"/>
<rect x="150" y="9" width="1.2" height="7.9" fill="#1aa81a"/>
<path d="M169.5 8.2h15l-0.9 3.4-5.6 5.3h-1.4z" fill="url(#gFace)" stroke="#d4a414" stroke-width="0.7" stroke-linejoin="round"/>
<ellipse cx="177" cy="6.3" rx="7.9" ry="2.4" fill="url(#gHat)" stroke="#2a86b8" stroke-width="0.7"/>
<path d="M173 5.6q0.2-4.3 4-4.4 3.8 0.1 4 4.4-1.8 1-4 1-2.2 0-4-1z" fill="url(#gHat)" stroke="#2a86b8" stroke-width="0.6"/>
<circle cx="181.4" cy="12.6" r="4.2" fill="url(#gRed)"/>
<rect x="179.9" y="11.1" width="3.1" height="3.1" fill="#fff"/>
<text x="189.8" y="13" font-size="12px" fill="#000" stroke="#000" stroke-width="0.2" text-rendering="auto" textLength="47.6" lengthAdjust="spacing">自动交易</text>
<g fill="#555" shape-rendering="crispEdges"><rect x="263" y="4" width="1" height="13"/><rect x="261" y="14" width="13" height="1"/></g><path d="M263.5 2.8l1.8 2.6h-3.6z M275 14.5l-2.6 1.8v-3.6z" fill="#555"/>
<path d="M269.5 4.2v8.6M269.5 5.6h2.6M266.9 11.4h2.6" fill="none" stroke="#0a8a0a" stroke-width="1.1"/>
<g fill="#555" shape-rendering="crispEdges"><rect x="291" y="4" width="1" height="13"/><rect x="289" y="14" width="13" height="1"/></g><path d="M291.5 2.8l1.8 2.6h-3.6z M303 14.5l-2.6 1.8v-3.6z" fill="#555"/>
<rect x="297" y="1.2" width="1.1" height="11.8" fill="#0a8a0a"/>
<rect x="295.5" y="3.6" width="4.1" height="7.2" fill="url(#gCandle)" stroke="#0a8a0a" stroke-width="1"/>
<g fill="#555" shape-rendering="crispEdges"><rect x="319" y="4" width="1" height="13"/><rect x="317" y="14" width="13" height="1"/></g><path d="M319.5 2.8l1.8 2.6h-3.6z M331 14.5l-2.6 1.8v-3.6z" fill="#555"/>
<path d="M318.3 11.6q1.6-0.6 3-2.8 1.4-2.4 3-2.5 1.3 0 2.8 1.8 1.4 1.6 2.6 1.9" fill="none" stroke="#2a9a2a" stroke-width="1.1"/>
<path d="M359.3 10.4l5.6 5.2-1.9 1.9-5.4-5.4z" fill="#e8c81a" stroke="#b8860b" stroke-width="0.7"/><circle cx="355" cy="7" r="5.4" fill="#d9f1ff" stroke="#2a70c8" stroke-width="1.1"/><rect x="351.8" y="6.2" width="6.4" height="1.6" fill="#3f88b5"/><rect x="354.2" y="3.8" width="1.6" height="6.4" fill="#3f88b5"/>
<path d="M387.3 10.4l5.6 5.2-1.9 1.9-5.4-5.4z" fill="#e8c81a" stroke="#b8860b" stroke-width="0.7"/><circle cx="383" cy="7" r="5.4" fill="#d9f1ff" stroke="#2a70c8" stroke-width="1.1"/><rect x="379.8" y="6.2" width="6.4" height="1.6" fill="#3f88b5"/>
<rect x="405" y="1.2" width="8" height="7.8" rx="0.8" fill="url(#gGreenT)"/>
<path d="M406.2 4.5h5.6v3.6h-1v-0.9h-3.6v0.9h-1z" fill="#fff"/>
<rect x="406.1" y="2.1" width="0.9" height="0.9" fill="#e8f4e0"/>
<rect x="407" y="5.4" width="4" height="0.8" fill="#b4dc9a"/>
<rect x="413.1" y="1.2" width="8" height="7.8" rx="0.8" fill="url(#gBlueT)"/>
<path d="M414.3 4.5h5.6v3.6h-1v-0.9h-3.6v0.9h-1z" fill="#fff"/>
<rect x="414.20000000000005" y="2.1" width="0.9" height="0.9" fill="#e8f4e0"/>
<rect x="415.1" y="5.4" width="4" height="0.8" fill="#a8bcf0"/>
<rect x="405" y="9.2" width="8" height="7.8" rx="0.8" fill="url(#gBlueT)"/>
<path d="M406.2 12.5h5.6v3.6h-1v-0.9h-3.6v0.9h-1z" fill="#fff"/>
<rect x="406.1" y="10.1" width="0.9" height="0.9" fill="#e8f4e0"/>
<rect x="407" y="13.399999999999999" width="4" height="0.8" fill="#a8bcf0"/>
<rect x="413.1" y="9.2" width="8" height="7.8" rx="0.8" fill="url(#gGreenT)"/>
<path d="M414.3 12.5h5.6v3.6h-1v-0.9h-3.6v0.9h-1z" fill="#fff"/>
<rect x="414.20000000000005" y="10.1" width="0.9" height="0.9" fill="#e8f4e0"/>
<rect x="415.1" y="13.399999999999999" width="4" height="0.8" fill="#b4dc9a"/>
<g fill="#555" shape-rendering="crispEdges"><rect x="443" y="4" width="1" height="13"/><rect x="441" y="14" width="13" height="1"/></g><path d="M443.5 2.8l1.8 2.6h-3.6z M455 14.5l-2.6 1.8v-3.6z" fill="#555"/>
<path d="M448.3 5.3l3.6 3.3-3.6 3.4z" fill="#7dff8a" stroke="#0a9a1a" stroke-width="1" stroke-linejoin="round"/>
<g fill="#555" shape-rendering="crispEdges"><rect x="471" y="4" width="1" height="13"/><rect x="469" y="14" width="13" height="1"/></g><path d="M471.5 2.8l1.8 2.6h-3.6z M483 14.5l-2.6 1.8v-3.6z" fill="#555"/>
<rect x="477" y="3" width="1.2" height="10" fill="#1a6a9a"/>
<path d="M478.6 8.5l2.9-2.3-0.6 1.8h3v1h-3l0.6 1.8z" fill="#f06a10" stroke="#b83208" stroke-width="0.5"/>
<path d="M502.5 2.3q0-1 1-1h7l3.5 3.5v9q0 1-1 1h-9.5q-1 0-1-1z" fill="#fff" stroke="#757575" stroke-width="1"/><path d="M510.3 1.6v3.2h3.2" fill="#f4f4f4" stroke="#757575" stroke-width="0.9"/><path d="M508 3.6q-2-0.3-2.2 1.6v7.6M504.6 7.2h3" fill="none" stroke="#4a4030" stroke-width="1"/>
<g shape-rendering="crispEdges"><path d="M510 7h4v4h4v4h-4v4h-4v-4h-4v-4h4z" fill="#0f9a1c"/><path d="M511 8h2v4h4v2h-4v4h-2v-4h-4v-2h4z" fill="url(#gPlus)"/></g>
<path d="M523.5 7.7h6l-3 3.6z" fill="#000"/>
<circle cx="548.1" cy="9.1" r="6.8" fill="#fdfdff" stroke="url(#gClock)" stroke-width="2.4"/>
<circle cx="548.1" cy="9.1" r="4.6" fill="none" stroke="#a8a8b4" stroke-width="0.9" stroke-dasharray="0.7 1.7"/>
<path d="M547.6 5.5v3.6h2.8" fill="none" stroke="#222" stroke-width="1.1"/>
<rect x="547.2" y="11.6" width="1.8" height="0.7" fill="#6aa8f0"/>
<path d="M562.5 7.7h6l-3 3.6z" fill="#000"/>
<g transform="translate(0,0.5)">
<rect x="579.4" y="2.2" width="15.2" height="13.4" rx="0.8" fill="#fff" stroke="#3a7ac4" stroke-width="1"/>
<rect x="579.9" y="2.7" width="14.2" height="2.1" fill="url(#gWin)"/>
<rect x="581" y="3.3" width="5" height="0.6" fill="#e8f4ff"/>
<rect x="579.9" y="10" width="14.2" height="0.9" fill="#4a86c8"/>
<path d="M581.2 8.6h2.4l1.2-1.2h1.4l0.8-0.9h1l1 1h1.8l1.2-1h1" fill="none" stroke="#9a1a0a" stroke-width="1"/>
<path d="M582 13.4h1.4l1-0.9h1.2l1 1h1l1.8-2h0.8l2 2" fill="none" stroke="#1a8a1a" stroke-width="1"/>
</g>
<path d="M601.5 7.7h6l-3 3.6z" fill="#000"/>
<path d="M631.2 1.8v11.4l2.5-2.3 2.2 5.3 2-0.9-2.2-5.1h3.5z" fill="#484848"/>
<g fill="#404040" shape-rendering="crispEdges"><rect x="663" y="2" width="1" height="6"/><rect x="663" y="11" width="1" height="6"/><rect x="656" y="9" width="6" height="1"/><rect x="665" y="9" width="6" height="1"/></g>
<rect x="663" y="9" width="1" height="1" fill="#a09a80"/>
<g fill="#484848" shape-rendering="crispEdges"><rect x="697" y="3" width="1" height="13"/><rect x="720" y="9" width="12" height="1"/></g>
<path d="M747.8 15.8l12.2-12.2" stroke="#484848" stroke-width="1.1" fill="none"/>
<g stroke="#484848" fill="none"><path d="M773.8 10.6l8-8M778.8 15.8l9.2-9.2" stroke-width="0.8"/><path d="M776 9.2l1.2 6.6M778.6 7l1.4 6.4M781.4 4.6l1.4 6.2M785.2 1.2l1 6.6" stroke-width="1.3"/><path d="M775.2 12l11.6-7" stroke-width="0.7"/></g>
<text x="784.6" y="17.9" font-size="6.8px" font-weight="bold" fill="#333">E</text>
<g fill="none" stroke="#484848" stroke-width="1" stroke-dasharray="1 1" shape-rendering="crispEdges"><path d="M803 2.5h14M803 5.5h14M803 9.5h14M803 13.5h10"/></g>
<text x="812.6" y="17.9" font-size="6.8px" font-weight="bold" fill="#333">F</text>
<text transform="translate(834,14) scale(0.92,1.06)" font-size="11.5px" fill="#505050" stroke="#505050" stroke-width="0.3">A</text>
<rect x="860.5" y="3.5" width="11" height="12" fill="none" stroke="#484848" stroke-width="1" stroke-dasharray="1 1" shape-rendering="crispEdges"/>
<rect x="859" y="2" width="3" height="2" fill="#484848" shape-rendering="crispEdges"/>
<path d="M862 6.6h8M866 6.6v7" stroke="#505050" stroke-width="1.4" fill="none"/>
<path d="M890.4 3l3.6 3.6h-2v1.2h-3.2v-1.2h-2z" fill="#505050"/>
<path d="M897.4 16.2l-3.6-3.6h2v-1.2h3.2v1.2h2z" fill="#505050"/>
<path d="M889.2 10.4l2.4 2.2 4.4-5.4" fill="none" stroke="#404040" stroke-width="1.1"/>
<path d="M907.5 7.7h6l-3 3.6z" fill="#000"/>
<text x="934.4" y="13" font-size="9.6px" fill="#3a3a3a" stroke="#3a3a3a" stroke-width="0.15">M1</text>
<text x="962.4" y="13" font-size="9.6px" fill="#3a3a3a" stroke="#3a3a3a" stroke-width="0.15">M5</text>
<text x="988.4" y="13" font-size="9.6px" fill="#3a3a3a" stroke="#3a3a3a" stroke-width="0.15">M15</text>
<text x="1016.5" y="13" font-size="9.6px" fill="#3a3a3a" stroke="#3a3a3a" stroke-width="0.15">M30</text>
<text x="1047.3" y="13" font-size="9.6px" fill="#3a3a3a" stroke="#3a3a3a" stroke-width="0.15">H1</text>
<text x="1074.8" y="13" font-size="9.6px" fill="#3a3a3a" stroke="#3a3a3a" stroke-width="0.15">H4</text>
<text x="1103" y="13" font-size="9.6px" fill="#3a3a3a" stroke="#3a3a3a" stroke-width="0.15">D1</text>
<text x="1130.4" y="13" font-size="9.6px" fill="#3a3a3a" stroke="#3a3a3a" stroke-width="0.15">W1</text>
<text x="1156.8" y="13" font-size="9.6px" fill="#3a3a3a" stroke="#3a3a3a" stroke-width="0.15">MN</text>
<path d="M1647.2 9.2l-3.6 4.4" stroke="#2a5fd0" stroke-width="2.2" stroke-linecap="round" fill="none"/>
<circle cx="1650.4" cy="6.2" r="4" fill="#f4f8ff" stroke="#2a5fd0" stroke-width="1.2"/>
<path d="M1667.4 11q0-4 5-4t5.2 4q0 3.6-4.6 3.8l-2.6 2.6 0.4-2.8q-3.4-0.6-3.4-3.6z" fill="#e4e6ec" stroke="#b4b6bc" stroke-width="0.8"/>
<circle cx="1681.6" cy="7" r="8.2" fill="url(#gBadge)"/>
<text x="1678.7" y="11.2" font-size="12px" fill="#fff">1</text>
</g>
</svg>
</body></html>
